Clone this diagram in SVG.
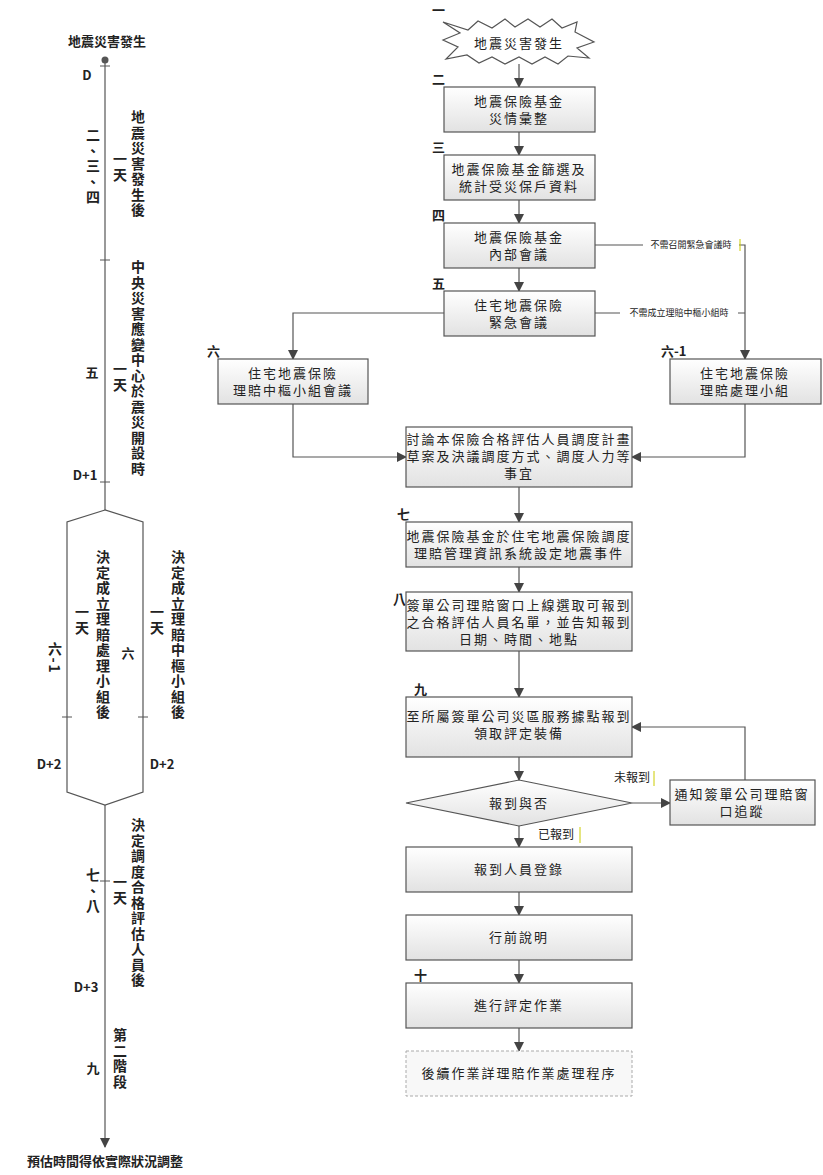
<svg xmlns="http://www.w3.org/2000/svg" width="823" height="1175" viewBox="0 0 823 1175">
<style>
text{font-family:"Noto Sans CJK TC","Noto Sans CJK SC",sans-serif;fill:#222}
.t{font-size:13px;text-anchor:middle;letter-spacing:2px}
.s{font-size:9px}
.n{font-size:13px;font-weight:bold}
.v{font-size:14px;font-weight:bold;writing-mode:vertical-rl;letter-spacing:1.5px}
.b{fill:url(#g);stroke:#555;stroke-width:1.2}
.l{fill:none;stroke:#555;stroke-width:1.2}
.ln{fill:none;stroke:#555;stroke-width:1.2;marker-end:url(#a)}
</style>
<defs>
<linearGradient id="g" x1="0" y1="0" x2="0" y2="1"><stop offset="0" stop-color="#fff"/><stop offset="1" stop-color="#e2e2e2"/></linearGradient>
<marker id="a" markerWidth="10" markerHeight="10" refX="9" refY="5" orient="auto" markerUnits="userSpaceOnUse"><path d="M0,0 L10,5 L0,10 Z" fill="#444"/></marker>
</defs>
<g id="timeline">
<text x="107" y="46" class="n" font-size="14" text-anchor="middle">地震災害發生</text>
<line x1="105" y1="61" x2="105" y2="510" class="l"/>
<line x1="105" y1="805" x2="105" y2="1147" class="ln"/>
<circle cx="105" cy="60" r="3.5" fill="#555"/>
<path d="M105,510 L67,522 L67,792 L105,805 L143,792 L143,522 Z" class="l"/>
<g stroke="#555"><line x1="100" y1="66" x2="110" y2="66"/><line x1="100" y1="260" x2="110" y2="260"/><line x1="100" y1="482" x2="110" y2="482"/><line x1="62" y1="717" x2="72" y2="717"/><line x1="138" y1="717" x2="148" y2="717"/><line x1="100" y1="881" x2="110" y2="881"/></g>
<text x="87" y="80" class="n" text-anchor="middle">D</text>
<text x="93" y="128" class="v">二、三、四</text>
<text x="120" y="152" class="v">一天</text>
<text x="138" y="110" class="v">地震災害發生後</text>
<text x="138" y="260" class="v">中央災害應變中心於震災開設時</text>
<text x="92" y="377" class="n" text-anchor="middle">五</text>
<text x="120" y="362" class="v">一天</text>
<text x="85" y="480" class="n" text-anchor="middle">D+1</text>
<text x="103" y="550" class="v">決定成立理賠處理小組後</text>
<text x="82" y="605" class="v">一天</text>
<text x="55" y="642" class="v">六-1</text>
<text x="128" y="658" class="n" text-anchor="middle">六</text>
<text x="178" y="550" class="v">決定成立理賠中樞小組後</text>
<text x="157" y="605" class="v">一天</text>
<text x="49" y="769" class="n" text-anchor="middle">D+2</text>
<text x="162" y="769" class="n" text-anchor="middle">D+2</text>
<text x="138" y="818" class="v">決定調度合格評估人員後</text>
<text x="120" y="875" class="v">一天</text>
<text x="93" y="868" class="v">七、八</text>
<text x="86" y="992" class="n" text-anchor="middle">D+3</text>
<text x="120" y="1028" class="v">第二階段</text>
<text x="93" y="1073" class="n" text-anchor="middle">九</text>
<text x="105" y="1166" class="n" font-size="14" text-anchor="middle">預估時間得依實際狀況調整</text>
</g>
<g id="connectors">
<line x1="519" y1="64" x2="519" y2="87" class="ln"/>
<line x1="519" y1="132" x2="519" y2="155" class="ln"/>
<line x1="519" y1="200" x2="519" y2="223" class="ln"/>
<line x1="519" y1="268" x2="519" y2="291" class="ln"/>
<path d="M595,245 H745 V359" class="ln"/>
<path d="M595,313 H745" class="l"/>
<path d="M444,313 H293 V359" class="ln"/>
<path d="M293,404 V457 H406" class="ln"/>
<path d="M745,404 V457 H632" class="ln"/>
<line x1="519" y1="487" x2="519" y2="522" class="ln"/>
<line x1="519" y1="567" x2="519" y2="592" class="ln"/>
<line x1="519" y1="651" x2="519" y2="697" class="ln"/>
<line x1="519" y1="757" x2="519" y2="780" class="ln"/>
<line x1="632" y1="803" x2="670" y2="803" class="ln"/>
<path d="M745,780 V727 H632" class="ln"/>
<line x1="519" y1="826" x2="519" y2="847" class="ln"/>
<line x1="519" y1="892" x2="519" y2="915" class="ln"/>
<line x1="519" y1="960" x2="519" y2="983" class="ln"/>
<line x1="519" y1="1028" x2="519" y2="1051" class="ln"/>
<rect x="643" y="239" width="96" height="12" fill="#fff"/>
<text x="691" y="248" class="s" text-anchor="middle">不需召開緊急會議時</text>
<line x1="740" y1="239" x2="740" y2="251" stroke="#cc0" stroke-width="1"/>
<rect x="620" y="307" width="118" height="12" fill="#fff"/>
<text x="679" y="316" class="s" text-anchor="middle">不需成立理賠中樞小組時</text>
<text x="614" y="782" font-size="12">未報到</text>
<line x1="654" y1="771" x2="654" y2="786" stroke="#cc0"/>
<text x="538" y="839" font-size="12">已報到</text>
<line x1="580" y1="827" x2="580" y2="843" stroke="#cc0"/>
</g>
<g id="n1"><text x="432" y="15" class="n">一</text>
<path d="M443,22 L468,30 L478,21 L492,28 L505,19 L515,27 L528,19 L540,27 L552,19 L562,28 L577,22 L575,32 L594,42 L577,48 L589,58 L568,56 L558,64 L545,57 L532,64 L519,57 L505,64 L492,57 L479,63 L467,55 L446,59 L458,47 L443,40 L460,33 Z" fill="#fff" stroke="#555" stroke-width="1.2"/>
<text x="519" y="48" class="t">地震災害發生</text></g>
<g id="n2"><text x="432" y="84" class="n">二</text><rect x="444" y="87" width="151" height="45" class="b"/><text x="519" y="106" class="t">地震保險基金</text><text x="519" y="123" class="t">災情彙整</text></g>
<g id="n3"><text x="432" y="152" class="n">三</text><rect x="444" y="155" width="151" height="45" class="b"/><text x="519" y="174" class="t">地震保險基金篩選及</text><text x="519" y="191" class="t">統計受災保戶資料</text></g>
<g id="n4"><text x="432" y="220" class="n">四</text><rect x="444" y="223" width="151" height="45" class="b"/><text x="519" y="242" class="t">地震保險基金</text><text x="519" y="259" class="t">內部會議</text></g>
<g id="n5"><text x="432" y="288" class="n">五</text><rect x="444" y="291" width="151" height="45" class="b"/><text x="519" y="310" class="t">住宅地震保險</text><text x="519" y="327" class="t">緊急會議</text></g>
<g id="n6"><text x="207" y="356" class="n">六</text><rect x="218" y="359" width="150" height="45" class="b"/><text x="293" y="378" class="t">住宅地震保險</text><text x="293" y="395" class="t">理賠中樞小組會議</text></g>
<g id="n61"><text x="661" y="356" class="n">六-1</text><rect x="670" y="359" width="151" height="45" class="b"/><text x="745" y="378" class="t">住宅地震保險</text><text x="745" y="395" class="t">理賠處理小組</text></g>
<g id="n6b"><rect x="406" y="427" width="226" height="60" class="b"/><text x="519" y="444" class="t">討論本保險合格評估人員調度計畫</text><text x="519" y="461" class="t">草案及決議調度方式、調度人力等</text><text x="519" y="478" class="t">事宜</text></g>
<g id="n7"><text x="397" y="519" class="n">七</text><rect x="406" y="522" width="226" height="45" class="b"/><text x="519" y="541" class="t">地震保險基金於住宅地震保險調度</text><text x="519" y="558" class="t">理賠管理資訊系統設定地震事件</text></g>
<g id="n8"><text x="393" y="604" class="n">八</text><rect x="406" y="592" width="226" height="59" class="b"/><text x="519" y="610" class="t">簽單公司理賠窗口上線選取可報到</text><text x="519" y="627" class="t">之合格評估人員名單，並告知報到</text><text x="519" y="644" class="t">日期、時間、地點</text></g>
<g id="n9"><text x="414" y="694" class="n">九</text><rect x="406" y="697" width="226" height="60" class="b"/><text x="519" y="721" class="t">至所屬簽單公司災區服務據點報到</text><text x="519" y="738" class="t">領取評定裝備</text></g>
<g id="d"><path d="M519,780 L632,803 L519,826 L406,803 Z" class="b"/><text x="519" y="808" class="t">報到與否</text></g>
<g id="nn"><rect x="670" y="780" width="145" height="45" class="b"/><text x="742" y="799" class="t">通知簽單公司理賠窗</text><text x="742" y="816" class="t">口追蹤</text></g>
<g id="nr"><rect x="406" y="847" width="226" height="45" class="b"/><text x="519" y="874" class="t">報到人員登錄</text></g>
<g id="np"><rect x="406" y="915" width="226" height="45" class="b"/><text x="519" y="942" class="t">行前說明</text></g>
<g id="n10"><text x="414" y="980" class="n">十</text><rect x="406" y="983" width="226" height="45" class="b"/><text x="519" y="1010" class="t">進行評定作業</text></g>
<g id="nf"><rect x="406" y="1051" width="226" height="45" fill="#f8f8f8" stroke="#aaa" stroke-dasharray="3,2"/><text x="519" y="1078" class="t">後續作業詳理賠作業處理程序</text></g>
</svg>
